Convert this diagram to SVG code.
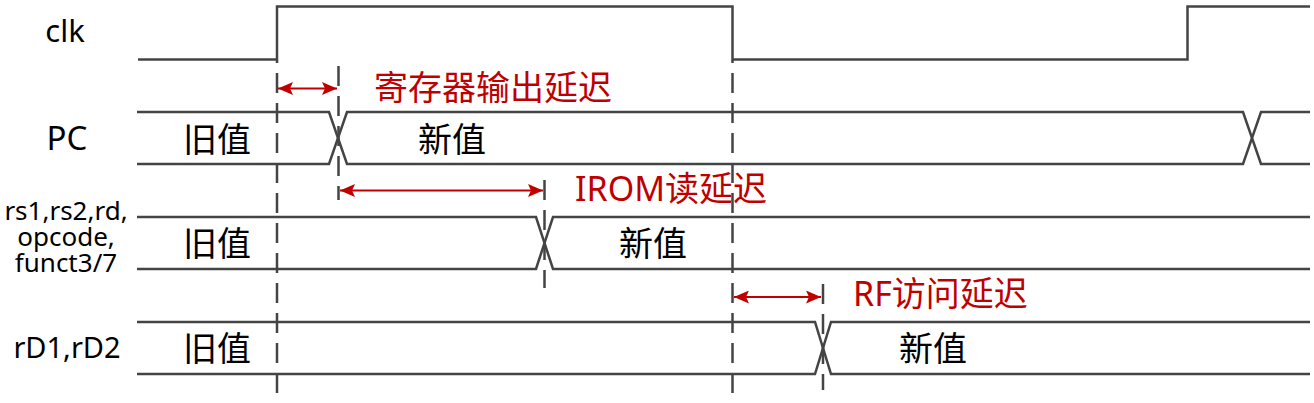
<svg xmlns="http://www.w3.org/2000/svg" width="1314" height="403" viewBox="0 0 1314 403">
<defs>
<style>
.sig{fill:none;stroke:#444;stroke-width:2.5;stroke-linejoin:miter}
.dash{fill:none;stroke:#444;stroke-width:2.5;stroke-dasharray:20 10}
.arr{fill:none;stroke:#C00000;stroke-width:2}
.lbl{font-family:"Noto Sans","Noto Sans CJK SC",sans-serif;fill:#000}
.val{font-family:"Noto Sans CJK SC",sans-serif;font-size:34px;fill:#000}
.red{font-family:"Noto Sans","Noto Sans CJK SC",sans-serif;font-size:34px;fill:#C00000}
</style>
<marker id="ah" viewBox="0 0 15 13" refX="15" refY="6.5" markerWidth="15" markerHeight="13" markerUnits="userSpaceOnUse" orient="auto-start-reverse">
<path d="M0,0 L15,6.5 L0,13 L3,6.5 Z" fill="#C00000"/>
</marker>
</defs>
<rect width="1314" height="403" fill="#fff"/>

<g id="clk">
<text class="lbl" x="65" y="42" font-size="31" text-anchor="middle">clk</text>
<path class="sig" d="M138,59.5 H277 V6.5 H732.5 V59.5 H1187.5 V6.5 H1310"/>
</g>

<g id="pc">
<text class="lbl" x="67" y="150" font-size="33" text-anchor="middle">PC</text>
<path class="sig" d="M137,112 H329 L347,164 H1243 L1261,112 H1310"/>
<path class="sig" d="M137,164 H329 L347,112 H1243 L1261,164 H1310"/>
<text class="val" x="183" y="152">旧值</text>
<text class="val" x="418" y="152">新值</text>
</g>

<g id="instr">
<text class="lbl" font-size="26" text-anchor="middle"><tspan x="66" y="220">rs1,rs2,rd,</tspan><tspan x="66" y="246">opcode,</tspan><tspan x="66" y="272">funct3/7</tspan></text>
<path class="sig" d="M137,217 H536 L553,269 H1310"/>
<path class="sig" d="M137,269 H536 L553,217 H1310"/>
<text class="val" x="183" y="256">旧值</text>
<text class="val" x="619" y="256">新值</text>
</g>

<g id="rd">
<text class="lbl" x="67" y="358" font-size="29" text-anchor="middle">rD1,rD2</text>
<path class="sig" d="M137,322 H815 L831,374 H1310"/>
<path class="sig" d="M137,374 H815 L831,322 H1310"/>
<text class="val" x="183" y="361">旧值</text>
<text class="val" x="899" y="361">新值</text>
</g>

<g id="connectors">
<line class="dash" x1="277" y1="60" x2="277" y2="393" stroke-dashoffset="17"/>
<line class="dash" x1="732.5" y1="60" x2="732.5" y2="393" stroke-dashoffset="17"/>
<line class="dash" x1="338.5" y1="66" x2="338.5" y2="200"/>
<line class="dash" x1="544.5" y1="180" x2="544.5" y2="288"/>
<line class="dash" x1="823" y1="284" x2="823" y2="390"/>
<line class="arr" x1="278" y1="88.5" x2="337" y2="88.5" marker-start="url(#ah)" marker-end="url(#ah)"/>
<line class="arr" x1="340" y1="190.5" x2="543" y2="190.5" marker-start="url(#ah)" marker-end="url(#ah)"/>
<line class="arr" x1="734" y1="297" x2="821" y2="297" marker-start="url(#ah)" marker-end="url(#ah)"/>
</g>

<g id="labels">
<text class="red" x="374" y="100">寄存器输出延迟</text>
<text class="red" x="575" y="201">IROM读延迟</text>
<text class="red" x="853" y="306">RF访问延迟</text>
</g>
</svg>
